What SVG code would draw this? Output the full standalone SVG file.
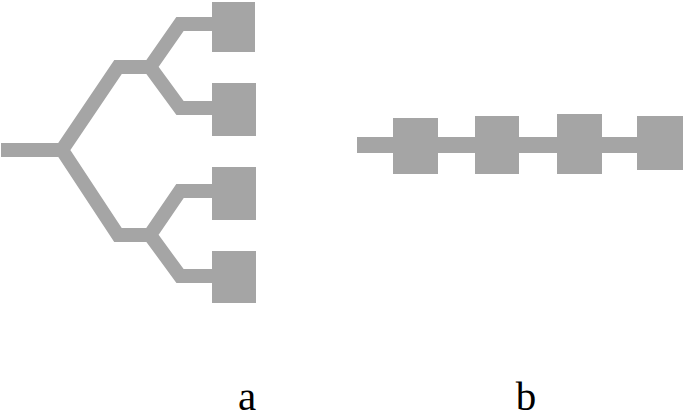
<svg xmlns="http://www.w3.org/2000/svg" width="685" height="420" viewBox="0 0 685 420">
<style>
.w{fill:none;stroke:#a5a5a5;stroke-width:14;stroke-linejoin:miter;stroke-linecap:butt}
.p{fill:#a5a5a5}
.t{font-family:"Liberation Serif",serif;font-size:41px;fill:#000;text-anchor:middle}
</style>
<rect width="685" height="420" fill="#fff"/>
<g id="connectors">
<path class="w" d="M1,150 H62 L118,67 H150 L180,24 H214 M150,67 L180,108 H214 M62,150 L118,235 H150 L180,191 H214 M150,235 L180,276 H214"/>
<path class="w" style="stroke-width:16" d="M357,145 H683"/>
</g>
<g id="a1"><rect class="p" x="212" y="2" width="43" height="50"/></g>
<g id="a2"><rect class="p" x="212" y="83" width="44" height="53"/></g>
<g id="a3"><rect class="p" x="212" y="167" width="44" height="53"/></g>
<g id="a4"><rect class="p" x="212" y="251" width="44" height="52"/></g>
<g id="b1"><rect class="p" x="393" y="118" width="45" height="56"/></g>
<g id="b2"><rect class="p" x="475" y="116" width="44" height="58"/></g>
<g id="b3"><rect class="p" x="557" y="114" width="45" height="60"/></g>
<g id="b4"><rect class="p" x="637" y="116" width="46" height="54"/></g>
<text class="t" x="247" y="410">a</text>
<text class="t" x="526" y="410">b</text>
</svg>
